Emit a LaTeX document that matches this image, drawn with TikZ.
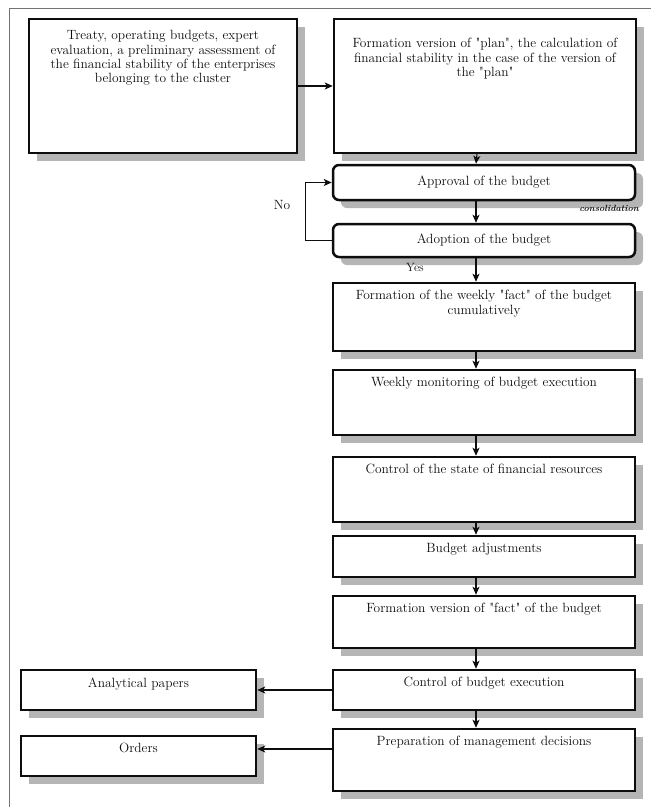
\documentclass[tikz,border=0pt]{standalone}
\usetikzlibrary{arrows.meta,shadows}
\definecolor{BudgetInk}{gray}{0.05}
\definecolor{BudgetShadow}{gray}{0.71}
\definecolor{BudgetFrame}{gray}{0.45}
\newcommand{\qt}[1]{\textquotedbl#1\textquotedbl}
\tikzset{
    budget/diagram/.style={
        x=1pt, y=-1pt,
        font=\fontsize{13.4}{14.3}\selectfont,
        text=BudgetInk,
        line join=miter
    },
    budget/frame/.style={draw=BudgetFrame, line width=1pt},
    budget/box/.style={
        draw=BudgetInk, line width=2.5pt, fill=white,
        minimum width=302, inner sep=0pt,
        drop shadow={shadow xshift=8pt, shadow yshift=-8pt,
            fill=BudgetShadow, opacity=1}
    },
    budget/choice/.style={budget/box, rounded corners=6pt},
    budget/text/.style={anchor=north, align=center, inner sep=0pt, yshift=-8.5pt},
    budget/flow/.style={
        draw=BudgetInk, line width=1.1pt,
        -{Stealth[length=8pt, width=7pt, inset=2pt]}
    },
    budget/note/.style={font=\fontsize{9}{10}\selectfont\bfseries\itshape, inner sep=0pt}
}

\begin{document}
\begin{tikzpicture}[budget/diagram]
    \useasboundingbox (0,0) rectangle (651,807);
    \draw[budget/frame] (651,8) -- (9,8) -- (9,807);

    % top row
    \node[budget/box, minimum width=268, minimum height=134] (source) at (163,86) {};
    \node[budget/box, minimum height=134] (plan) at (485,86) {};
    \node[budget/text, yshift=-4pt] (source-t) at (source.north) {Treaty, operating budgets, expert\\
        evaluation, a preliminary assessment of\\
        the financial stability of the enterprises\\
        belonging to the cluster};
    \node[budget/text, yshift=-12pt] (plan-t) at (plan.north) {Formation version of \qt{plan}, the calculation of\\
        financial stability in the case of the version of\\
        the \qt{plan}};

    % approval loop
    \node[budget/choice, minimum height=35] (approve) at (484,182.5) {Approval of the budget};
    \node[budget/choice, minimum height=33] (adopt) at (484,240.5) {Adoption of the budget};
    \node[budget/note, anchor=east] (consol) at (639,208) {consolidation};
    \node (no) at (282,205) {No};
    \node[font=\fontsize{12}{13}\selectfont] (yes) at (415,267) {Yes};

    % main column
    \node[budget/box, minimum height=68] (weekly) at (484,317) {};
    \node[budget/box, minimum height=65] (monitor) at (484,402.5) {};
    \node[budget/box, minimum height=65] (resources) at (484,489.5) {};
    \node[budget/box, minimum height=41] (adjust) at (484,556.5) {};
    \node[budget/box, minimum height=52] (factver) at (484,622) {};
    \node[budget/box, minimum height=40] (control) at (484,690) {};
    \node[budget/box, minimum height=62] (decide) at (484,760) {};
    \node[budget/text] (weekly-t) at (weekly.north) {Formation of the weekly \qt{fact} of the budget\\ cumulatively};
    \node[budget/text] (monitor-t) at (monitor.north) {Weekly monitoring of budget execution};
    \node[budget/text] (resources-t) at (resources.north) {Control of the state of financial resources};
    \node[budget/text] (adjust-t) at (adjust.north) {Budget adjustments};
    \node[budget/text] (factver-t) at (factver.north) {Formation version of \qt{fact} of the budget};
    \node[budget/text] (control-t) at (control.north) {Control of budget execution};
    \node[budget/text] (decide-t) at (decide.north) {Preparation of management decisions};

    % outputs
    \node[budget/box, minimum width=235, minimum height=40] (papers) at (138.5,690) {};
    \node[budget/box, minimum width=235, minimum height=40] (orders) at (138.5,756) {};
    \node[budget/text] (papers-t) at (papers.north) {Analytical papers};
    \node[budget/text] (orders-t) at (orders.north) {Orders};

    % arrows
    \draw[budget/flow] (source.east) -- (plan.west);
    \foreach \a/\b in {plan/approve, approve/adopt, adopt/weekly, weekly/monitor,
        monitor/resources, resources/adjust, adjust/factver, factver/control, control/decide}
        \draw[budget/flow] ([xshift=-8pt]\a.south) -- ([xshift=-8pt]\b.north);
    \draw[budget/flow] (adopt.west) -- ++(-26,0) |- (approve.west);
    \draw[budget/flow] (control.west) -- (papers.east);
    \coordinate (orders-in) at ([yshift=7pt]orders.east);
    \draw[budget/flow] (decide.west |- orders-in) -- (orders-in);
\end{tikzpicture}
\end{document}
